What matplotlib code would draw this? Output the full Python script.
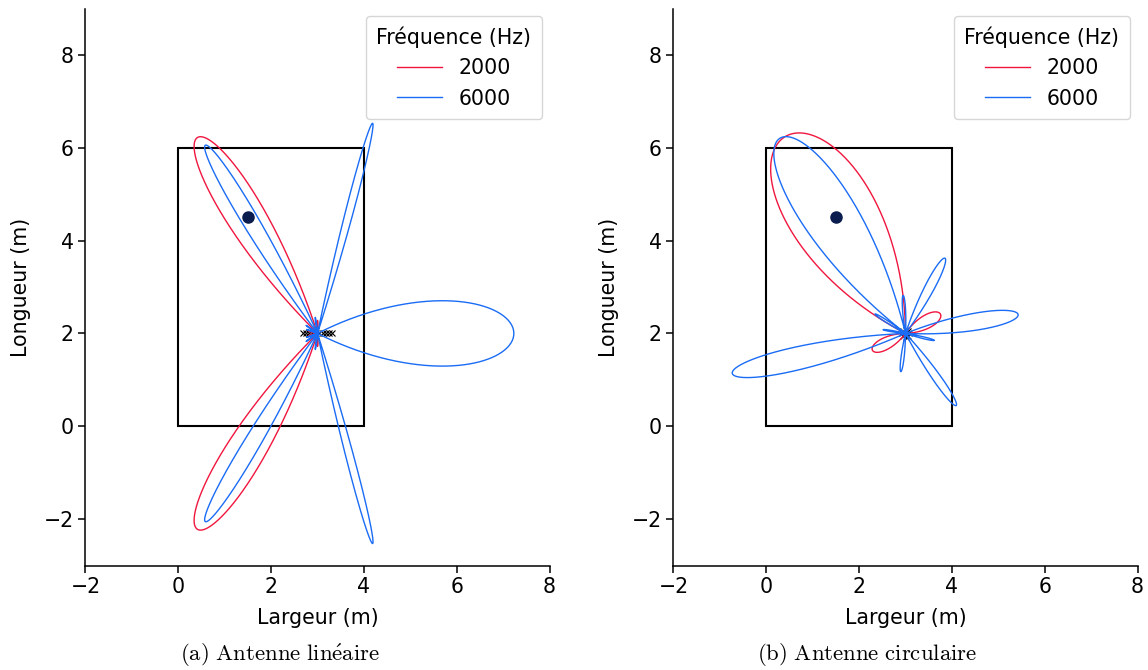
import numpy as np
import matplotlib
matplotlib.use("Agg")
import matplotlib.pyplot as plt
from matplotlib.patches import Rectangle

plt.rcParams['mathtext.fontset'] = 'cm'
FS = 14.8

# ---------------- data ----------------
freq_labels = ["2000", "6000"]
room_width, room_length = 4.0, 6.0
source_x, source_y = 1.5, 4.5
array_cx, array_cy = 3.0, 2.0

# linear array element positions (x along y = 2)
lin_elem_x = [2.68, 2.75, 2.82, 2.89, 2.96, 3.04, 3.11, 3.18, 3.25, 3.32]
lin_elem_y = [2.0] * 10
# circular array element positions
circ_elem_x = [3.08, 3.057, 3.0, 2.943, 2.92, 2.943, 3.0, 3.057]
circ_elem_y = [2.0, 2.057, 2.08, 2.057, 2.0, 1.943, 1.92, 1.943]

# lobes: direction (deg), reach (m), half-width to null (deg)
lin_2000_dir = [121.5, -121.5, 90.0, -90.0, 165.0, -165.0]
lin_2000_len = [4.95, 4.95, 0.28, 0.28, 0.20, 0.20]
lin_2000_wid = [13.5, 13.5, 6.0, 6.0, 6.0, 6.0]

lin_6000_dir = [120.8, -120.8, 75.3, -75.3, 0.0, 98.0, -98.0, 145.0, -145.0, 160.0, -160.0]
lin_6000_len = [4.72, 4.72, 4.68, 4.68, 4.23, 0.35, 0.35, 0.30, 0.30, 0.25, 0.25]
lin_6000_wid = [6.0, 6.0, 2.9, 2.9, 27.0, 4.0, 4.0, 4.0, 4.0, 4.0, 4.0]

circ_2000_dir = [121.5, 29.0, 207.0]
circ_2000_len = [4.97, 0.86, 0.80]
circ_2000_wid = [31.0, 27.0, 26.0]

circ_6000_dir = [122.8, 193.0, 9.5, 62.3, -54.9, 93.5, 263.0, 147.5, 170.5, -13.6]
circ_6000_len = [5.00, 3.83, 2.46, 1.83, 1.90, 0.82, 0.83, 0.78, 0.49, 0.64]
circ_6000_wid = [19.0, 10.4, 12.0, 9.0, 7.5, 6.5, 6.5, 5.0, 4.5, 5.0]

RED = "#f0163e"
BLUE = "#1a6cf5"
NAVY = "#0b1d4f"


def lobe_curve(dirs, lens, wids, cx, cy, n=14401):
    th = np.linspace(-180.0, 180.0, n)
    r = np.zeros_like(th)
    for d, L, w in zip(dirs, lens, wids):
        delta = (th - d + 180.0) % 360.0 - 180.0
        u = delta / w
        c = np.where(np.abs(u) < 1.0, L * np.cos(np.pi * np.clip(u, -1, 1) / 2.0), 0.0)
        r = np.maximum(r, c)
    t = np.deg2rad(th)
    return cx + r * np.cos(t), cy + r * np.sin(t)


fig = plt.figure(figsize=(11.48, 6.70), dpi=100)
W, H = 1148.0, 670.0
ax1 = fig.add_axes([85 / W, (H - 565.5) / H, 465 / W, 557 / H])
ax2 = fig.add_axes([673 / W, (H - 565.5) / H, 465 / W, 557 / H])

panels = [
    (ax1, lin_elem_x, lin_elem_y,
     [(lin_2000_dir, lin_2000_len, lin_2000_wid), (lin_6000_dir, lin_6000_len, lin_6000_wid)]),
    (ax2, circ_elem_x, circ_elem_y,
     [(circ_2000_dir, circ_2000_len, circ_2000_wid), (circ_6000_dir, circ_6000_len, circ_6000_wid)]),
]

for ax, ex, ey, curves in panels:
    ax.add_patch(Rectangle((0, 0), room_width, room_length, fill=False,
                           edgecolor="black", linewidth=1.5, zorder=2))
    ax.plot(ex, ey, linestyle="none", marker="x", color="black",
            markersize=4, markeredgewidth=0.8, zorder=3)
    for (dirs, lens, wids), col, lab in zip(curves, [RED, BLUE], freq_labels):
        x, y = lobe_curve(dirs, lens, wids, array_cx, array_cy)
        ax.plot(x, y, color=col, linewidth=1.0, label=lab, zorder=4)
    ax.plot([source_x], [source_y], marker="o", color=NAVY, markersize=8,
            linestyle="none", zorder=6)
    ax.set_xlim(-2, 8)
    ax.set_ylim(-3, 9)
    ax.set_aspect("equal", adjustable="box")
    ax.set_xticks([-2, 0, 2, 4, 6, 8])
    ax.set_yticks([-2, 0, 2, 4, 6, 8])
    ax.tick_params(labelsize=FS, width=1.1, length=5)
    for s in ["top", "right"]:
        ax.spines[s].set_visible(False)
    for s in ["left", "bottom"]:
        ax.spines[s].set_linewidth(1.1)
    ax.set_xlabel("Largeur (m)", fontsize=FS, labelpad=7.5)
    ax.set_ylabel("Longueur (m)", fontsize=FS, labelpad=9)
    leg = ax.legend(title="Fréquence (Hz)", loc="upper right", fontsize=FS,
                    title_fontsize=FS, handlelength=2.2, borderaxespad=0.38,
                    borderpad=0.5)

fig.text(279.5 / W, 1 - 655 / H, r"$\mathrm{(a)\ Antenne\ lin\acute{e}aire}$",
         ha="center", va="center", fontsize=16.4)
fig.text(867.5 / W, 1 - 655 / H, r"$\mathrm{(b)\ Antenne\ circulaire}$",
         ha="center", va="center", fontsize=16.4)

fig.savefig("out.png", dpi=100)
